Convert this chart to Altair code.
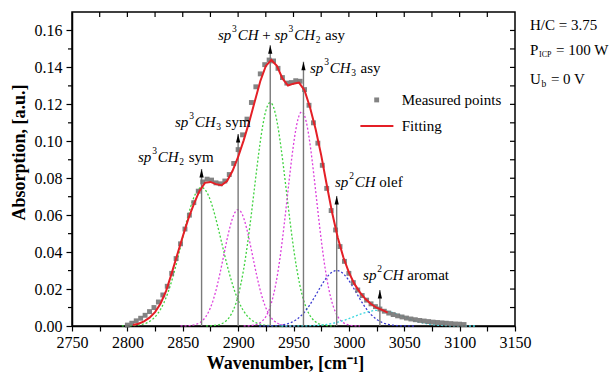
import altair as alt
import numpy as np
import pandas as pd

# ---------------------------------------------------------------- data
# measured absorption spectrum
wn_meas = list(range(2800, 3105, 4))
abs_meas = [
    0.0005, 0.0015, 0.0028, 0.0042, 0.0058, 0.0078, 0.0100, 0.0130, 0.0168, 0.0215,
    0.0285, 0.0365, 0.0445, 0.0525, 0.0600, 0.0668, 0.0730, 0.0780, 0.0795, 0.0790,
    0.0775, 0.0770, 0.0785, 0.0820, 0.0880, 0.0955, 0.1035, 0.1120, 0.1210, 0.1295,
    0.1365, 0.1415, 0.1440, 0.1435, 0.1395, 0.1345, 0.1315, 0.1318, 0.1328, 0.1325,
    0.1280, 0.1195, 0.1100, 0.0990, 0.0870, 0.0745, 0.0625, 0.0520, 0.0430, 0.0350,
    0.0285, 0.0235, 0.0195, 0.0165, 0.0140, 0.0120, 0.0105, 0.0092, 0.0080, 0.0070,
    0.0062, 0.0055, 0.0049, 0.0043, 0.0038, 0.0034, 0.0030, 0.0027, 0.0024, 0.0021,
    0.0019, 0.0017, 0.0015, 0.0013, 0.0011, 0.0010, 0.0008,
]

# fitted envelope
wn_fit = list(range(2805, 3040, 5))
abs_fit = [
    0.0005, 0.0012, 0.0025, 0.0045, 0.0075, 0.0122, 0.0190, 0.0285, 0.0385, 0.0485,
    0.0580, 0.0660, 0.0730, 0.0775, 0.0780, 0.0768, 0.0762, 0.0785, 0.0840, 0.0915,
    0.1005, 0.1105, 0.1215, 0.1325, 0.1408, 0.1440, 0.1408, 0.1340, 0.1302, 0.1312,
    0.1318, 0.1275, 0.1182, 0.1065, 0.0925, 0.0765, 0.0610, 0.0478, 0.0372, 0.0290,
    0.0228, 0.0182, 0.0146, 0.0119, 0.0099, 0.0087, 0.0072,
]

# Gaussian bands of the fit: centre, height, width
band_names = ["CH2 sym", "CH3 sym", "CH+CH2 asy", "CH3 asy", "sp2 olef", "sp2 aromat"]
band_center = [2867, 2900, 2929, 2957.5, 2989, 3027]
band_height = [0.075, 0.063, 0.121, 0.116, 0.030, 0.0085]
band_sigma = [18, 13, 14.5, 13, 17.5, 22]
band_color = ["#3fd23f", "#dc3fdc", "#3fd23f", "#dc3fdc", "#3a3ad0", "#3fd8e0"]

# band markers: position and arrow tip height
marker_wn = [2867, 2900, 2929, 2959, 2989, 3028]
marker_top = [0.085, 0.104, 0.152, 0.143, 0.0704, 0.0195]

# band labels: anchor (left edge, vertical centre) and rich-text pieces
label_wn = [2809.6, 2843.0, 2881.8, 2964.9, 2987.5, 3012.8]
label_abs = [0.0915, 0.1105, 0.1576, 0.1397, 0.0780, 0.0276]
label_segs = [
    [("sp", "it"), ("3", "sup"), ("CH", "it"), ("2", "sub"), (" sym", "rm")],
    [("sp", "it"), ("3", "sup"), ("CH", "it"), ("3", "sub"), (" sym", "rm")],
    [("sp", "it"), ("3", "sup"), ("CH", "it"), (" + ", "rm"), ("sp", "it"), ("3", "sup"),
     ("CH", "it"), ("2", "sub"), (" asy", "rm")],
    [("sp", "it"), ("3", "sup"), ("CH", "it"), ("3", "sub"), (" asy", "rm")],
    [("sp", "it"), ("2", "sup"), ("CH", "it"), (" olef", "rm")],
    [("sp", "it"), ("2", "sup"), ("CH", "it"), (" aromat", "rm")],
]

# deposition conditions, top right
cond_wn = [3163.5, 3163.5, 3163.5]
cond_abs = [0.1630, 0.1494, 0.1337]
cond_segs = [
    [("H/C = 3.75", "rm")],
    [("P", "rm"), ("ICP", "subs"), (" = 100 W", "rm")],
    [("U", "rm"), ("b", "sub"), (" = 0 V", "rm")],
]

# legend entries
legend_wn = [3047.7, 3047.7]
legend_abs = [0.1224, 0.1083]
legend_text = ["Measured points", "Fitting"]
legend_square_wn = [3025.1]
legend_line_wn = [3010.4, 3040.2]

# axis ticks
x_ticks = list(range(2750, 3151, 25))
x_top_ticks = list(range(2775, 3150, 25))
y_major = [0.00, 0.02, 0.04, 0.06, 0.08, 0.10, 0.12, 0.14, 0.16]
y_minor = [0.01, 0.03, 0.05, 0.07, 0.09, 0.11, 0.13, 0.15]
y_all = [0.01, 0.02, 0.03, 0.04, 0.05, 0.06, 0.07, 0.08, 0.09, 0.10, 0.11, 0.12,
         0.13, 0.14, 0.15, 0.16]

# ---------------------------------------------------------------- layout
W, H = 443, 314
PX_PER_WN = W / 400.0
SERIF = "Liberation Serif"
FS = 15
SMALL = 9.5

W_RM = {" ": 250, "s": 389, "y": 500, "m": 778, "a": 444, "o": 500, "l": 278, "e": 444,
        "f": 333, "t": 278, "r": 333, "+": 564, "=": 564, "W": 944, "V": 722, "P": 556,
        "U": 722, "H": 722, "C": 667, "/": 278, ".": 250, "b": 500, "I": 333}
W_IT = {" ": 250, "s": 389, "p": 500, "C": 667, "H": 722}


def seg_width(text, kind):
    table = W_IT if kind == "it" else W_RM
    size = FS if kind in ("it", "rm") else (8 if kind == "subs" else SMALL)
    return sum(table.get(ch, 500) for ch in text) * size / 1000.0


def pieces(wns, abss, segs_list):
    rows = []
    for wn0, a0, segs in zip(wns, abss, segs_list):
        off = 0.0
        for text, kind in segs:
            small = kind in ("sup", "sub", "subs")
            if small:
                off += 0.8
            lead = len(text) - len(text.lstrip(" "))
            off += lead * seg_width(" ", kind)
            body = text.strip(" ")
            rows.append(dict(wn=wn0 + off / PX_PER_WN, A=a0, txt=body, kind=kind))
            off += seg_width(body, kind)
            off += (len(text) - lead - len(body)) * seg_width(" ", kind)
            if small:
                off += 0.8
    return pd.DataFrame(rows)


text_df = pd.concat([
    pieces(label_wn, label_abs, label_segs),
    pieces(cond_wn, cond_abs, cond_segs),
    pd.DataFrame(dict(wn=legend_wn, A=legend_abs, txt=legend_text, kind="rm")),
], ignore_index=True)

meas_df = pd.DataFrame(dict(wn=wn_meas, A=abs_meas))
fit_df = pd.DataFrame(dict(wn=wn_fit, A=abs_fit))

band_rows = []
for name, c, h, s in zip(band_names, band_center, band_height, band_sigma):
    xs = np.arange(np.floor(c - 4 * s), np.ceil(c + 4 * s) + 1, 1.0)
    for x in xs:
        band_rows.append(dict(wn=x, A=h * np.exp(-(x - c) ** 2 / (2 * s * s)), band=name))
band_df = pd.DataFrame(band_rows)

marker_df = pd.DataFrame(dict(wn=marker_wn, A=marker_top, base=0.0))

# ---------------------------------------------------------------- encodings
x_scale = alt.Scale(domain=[2750, 3150], nice=False, zero=False)
y_scale = alt.Scale(domain=[0, 0.17], nice=False)

x_axis = alt.Axis(
    values=x_ticks, format="d",
    labelExpr="datum.value % 50 == 0 ? datum.label : ''",
    title="Wavenumber, [cm\u207b\u00b9]", titleFont=SERIF, titleFontSize=18,
    titleFontWeight="bold", titleColor="black", titleX=213, titleY=37,
    titleBaseline="middle",
    labelFont=SERIF, labelFontSize=16, labelColor="black", labelPadding=3,
    labelFlush=False, tickColor="black", tickSize=5, tickWidth=1.2,
    domainColor="black", domainWidth=1.5, grid=False,
)
y_axis = alt.Axis(
    values=y_major, format=".2f",
    title="Absorption, [a.u.]", titleFont=SERIF, titleFontSize=18,
    titleFontWeight="bold", titleColor="black", titleX=-53, titleY=140,
    titleBaseline="middle", titleAlign="center",
    labelFont=SERIF, labelFontSize=16, labelColor="black", labelPadding=4,
    labelFlush=False, tickColor="black", tickSize=6, tickWidth=1.2,
    domainColor="black", domainWidth=1.5, grid=False,
)
X = alt.X("wn:Q", scale=x_scale, axis=x_axis)
Y = alt.Y("A:Q", scale=y_scale, axis=y_axis)

# ---------------------------------------------------------------- layers
bands = alt.Chart(band_df).mark_line(strokeDash=[2, 2], strokeWidth=1.3).encode(
    x=X, y=Y,
    color=alt.Color("band:N", scale=alt.Scale(domain=band_names, range=band_color), legend=None),
)

markers = alt.Chart(marker_df).mark_rule(color="#7a7a7a", strokeWidth=1.4).encode(
    x=X, y=Y, y2=alt.Y2("base:Q")
)
arrows = alt.Chart(marker_df).mark_point(
    shape="M0,-1L0.42,0.7L-0.42,0.7Z", filled=True, color="black", size=100,
    yOffset=5, opacity=1, strokeWidth=0,
).encode(x=X, y=Y)

measured = alt.Chart(meas_df).mark_point(
    shape="square", filled=True, color="#767676", size=24, opacity=0.9, strokeWidth=0
).encode(x=X, y=Y)

fit = alt.Chart(fit_df).mark_line(color="#e41f26", strokeWidth=2).encode(x=X, y=Y)

# legend symbols
leg_sq = alt.Chart(pd.DataFrame(dict(wn=legend_square_wn, A=legend_abs[:1]))).mark_point(
    shape="square", filled=True, color="#767676", size=24, opacity=0.9, strokeWidth=0
).encode(x=X, y=Y)
leg_line = alt.Chart(pd.DataFrame(dict(wn=[legend_line_wn[0]], wn2=[legend_line_wn[1]],
                                       A=legend_abs[1:]))).mark_rule(
    color="#e41f26", strokeWidth=2
).encode(x=X, x2=alt.X2("wn2:Q"), y=Y)

# extra tick marks on the frame
minor_left = alt.Chart(pd.DataFrame(dict(A=y_minor))).mark_rule(color="black", strokeWidth=1.2).encode(
    y=Y, x=alt.value(-4), x2=alt.value(0))
ticks_right = alt.Chart(pd.DataFrame(dict(A=y_all))).mark_rule(color="black", strokeWidth=1.2).encode(
    y=Y, x=alt.value(W - 5), x2=alt.value(W))
ticks_top = alt.Chart(pd.DataFrame(dict(wn=x_top_ticks))).mark_rule(color="black", strokeWidth=1.2).encode(
    x=X, y=alt.value(0), y2=alt.value(5))


def text_layer(kind, size, style, dy):
    return alt.Chart(text_df[text_df["kind"] == kind]).mark_text(
        align="left", baseline="middle", font=SERIF, fontSize=size,
        fontStyle=style, dy=dy, color="black",
    ).encode(x=X, y=Y, text="txt:N")


texts = [
    text_layer("rm", FS, "normal", 0),
    text_layer("it", FS, "italic", 0),
    text_layer("sup", SMALL, "normal", -6),
    text_layer("sub", SMALL, "normal", 5),
    text_layer("subs", 8, "normal", 5),
]

chart = alt.layer(
    bands, markers, measured, fit, arrows, leg_sq, leg_line,
    minor_left, ticks_right, ticks_top, *texts,
).properties(
    width=W, height=H,
    autosize=alt.AutoSizeParams(type="none"),
    padding={"left": 72, "top": 12, "right": 95, "bottom": 55},
    background="white",
).configure_view(stroke="black", strokeWidth=1.5)

chart.save("out.html", embed_options={"renderer": "svg", "actions": False})
